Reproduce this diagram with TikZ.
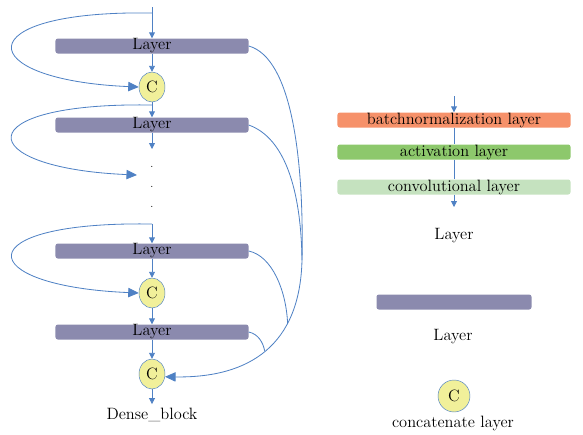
\documentclass[tikz,border=0pt]{standalone}
\usetikzlibrary{arrows.meta,shapes.geometric}
\definecolor{linecol}{HTML}{4F81C4}
\definecolor{barcol}{HTML}{8B8AAE}
\definecolor{catcol}{HTML}{F1F09A}
\definecolor{bncol}{HTML}{F6916A}
\definecolor{actcol}{HTML}{8DC86C}
\definecolor{convcol}{HTML}{C5E2BF}
\tikzset{
	bar/.style={rounded corners=2pt, inner sep=0pt, minimum width=5.79cm, minimum height=0.45cm, font=\fontsize{14}{16}\selectfont},
	layerbar/.style={bar, fill=barcol},
	catnode/.style={ellipse, draw=linecol, fill=catcol, inner sep=0pt, minimum width=0.78cm, minimum height=0.9cm, font=\fontsize{14}{16}\selectfont},
	lbl/.style={font=\fontsize{14}{16}\selectfont},
	flow/.style={linecol, line width=0.7pt, -{Triangle[width=5pt,length=5pt]}},
	skipline/.style={linecol, line width=0.7pt, -{Triangle[width=8pt,length=9pt]}},
	mergeline/.style={linecol, line width=0.7pt}
}
\begin{document}
\begin{tikzpicture}[x=0.03cm, y=-0.03cm]
		%%%%% block %%%%%
		\useasboundingbox (0,0) rectangle (583,434);
		
		\coordinate (in) at (152,7);
		\node[layerbar] (l1) at (152,46) {Layer};
		\node[catnode] (c1) at (152,87) {C};
		\node[layerbar] (l2) at (152,125) {Layer};
		\coordinate (d0) at (152,149);
		\node[inner sep=0pt, align=center, font=\small] (dots) at (152,187) {.\\[6pt].\\[6pt].};
		\coordinate (d1) at (152,224);
		\node[layerbar] (l3) at (152,251) {Layer};
		\node[catnode] (c2) at (152,293) {C};
		\node[layerbar] (l4) at (152,332) {Layer};
		\node[catnode] (c3) at (152,374) {C};
		\node[lbl] (out) at (152,415) {Dense\_block};
		
		\draw[flow] (in) -- (l1);
		\draw[flow] (l1) -- (c1);
		\draw[flow] (c1) -- (l2);
		\draw[flow] (l2) -- (d0);
		\draw[flow] (d1) -- (l3);
		\draw[flow] (l3) -- (c2);
		\draw[flow] (c2) -- (l4);
		\draw[flow] (l4) -- (c3);
		\draw[flow] (c3) -- (out.north);
		
		% skip connections on the left
		\draw[skipline] (152,13) .. controls (-35,10) and (-28,80) .. (c1.west);
		\draw[skipline] (152,105) .. controls (-35,102) and (-28,168) .. (137,175);
		\draw[skipline] (d1) .. controls (-35,221) and (-28,286) .. (c2.west);
		
		% collecting lines on the right
		\draw[mergeline] (l1.east) .. controls (292,58) and (304,160) .. (302,260);
		\draw[skipline] (302,260) .. controls (300,345) and (250,378) .. coordinate[pos=0.3] (j3) coordinate[pos=0.5] (j4) (c3.-12);
		\draw[mergeline] (l2.east) .. controls (285,138) and (301,190) .. (302,260);
		\draw[mergeline] (l3.east) .. controls (272,256) and (286,290) .. (j3);
		\draw[mergeline] (l4.east) .. controls (258,334) and (263,342) .. (j4);
		
		%%%%% legend %%%%%
		\coordinate (lin) at (454,96);
		\node[bar, fill=bncol, minimum width=6.99cm] (bn) at (454,120) {batchnormalization layer};
		\node[bar, fill=actcol, minimum width=6.99cm] (act) at (454,152) {activation layer};
		\node[bar, fill=convcol, minimum width=6.99cm] (conv) at (454,187) {convolutional layer};
		\coordinate (lout) at (454,207);
		\node[lbl] (lname) at (454,236) {Layer};
		
		\draw[flow] (lin) -- (bn);
		\draw[mergeline] (bn) -- (act);
		\draw[mergeline] (act) -- (conv);
		\draw[flow] (conv) -- (lout);
		
		\node[layerbar, minimum width=4.65cm] (lkey) at (454,302) {};
		\node[lbl] (lkeyname) at (453,337) {Layer};
		\node[catnode, minimum width=0.96cm, minimum height=0.96cm] (ckey) at (454,396) {C};
		\node[lbl] (ckeyname) at (453,423) {concatenate layer};
		
		%%%%% END %%%%%
\end{tikzpicture}
\end{document}
